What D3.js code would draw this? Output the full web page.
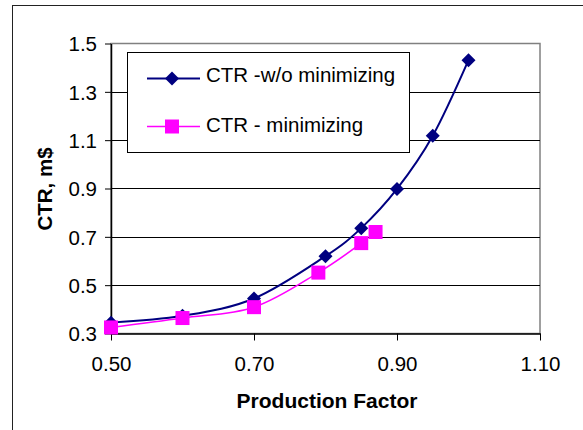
<!DOCTYPE html>
<html>
<head>
<meta charset="utf-8">
<script src="https://cdn.jsdelivr.net/npm/d3@7"></script>
<style>
  html, body { margin: 0; padding: 0; background: #fff; }
  svg { display: block; font-family: Arial, "Liberation Sans", sans-serif; }
</style>
</head>
<body>
<svg id="chart" width="583" height="430"></svg>
<script>
// ---- data ----
const xTicks = [0.50, 0.70, 0.90, 1.10];
const yTicks = [0.3, 0.5, 0.7, 0.9, 1.1, 1.3, 1.5];

const seriesNames = ["CTR -w/o minimizing", "CTR - minimizing"];

const woMinX = [0.50, 0.60, 0.70, 0.80, 0.85, 0.90, 0.95, 1.00];
const woMinY = [0.345, 0.373, 0.445, 0.620, 0.736, 0.898, 1.118, 1.431];

const minX = [0.50, 0.60, 0.70, 0.79, 0.85];
const minY = [0.325, 0.364, 0.409, 0.552, 0.674];

// unconnected extra point of the "minimizing" series
const minExtraX = [0.87];
const minExtraY = [0.720];

const xLabel = "Production Factor";
const yLabel = "CTR, m$";

// ---- layout ----
const svg = d3.select("#chart");
const plot = { left: 111, right: 540, top: 43.5, bottom: 333.5 };

const x = d3.scaleLinear().domain([0.5, 1.1]).range([plot.left, plot.right]);
const y = d3.scaleLinear().domain([0.3, 1.5]).range([plot.bottom, plot.top]);

const navy = "#000080";
const magenta = "#FF00FF";
const fs = 20.5;

// outer chart frame (extends past the window on right/bottom)
svg.append("rect")
  .attr("x", 12.5).attr("y", 5.5)
  .attr("width", 700).attr("height", 600)
  .attr("fill", "#fff").attr("stroke", "#222").attr("stroke-width", 1);

// plot area border (gray top/right)
svg.append("rect")
  .attr("x", plot.left).attr("y", plot.top)
  .attr("width", plot.right - plot.left).attr("height", plot.bottom - plot.top)
  .attr("fill", "#fff").attr("stroke", "#808080").attr("stroke-width", 1.5);

// horizontal gridlines
svg.append("g").selectAll("line")
  .data(yTicks.filter(v => v > 0.3 && v < 1.5))
  .join("line")
  .attr("x1", plot.left).attr("x2", plot.right)
  .attr("y1", d => Math.round(y(d)) + 0.5).attr("y2", d => Math.round(y(d)) + 0.5)
  .attr("stroke", "#000").attr("stroke-width", 1);

// y axis
const yAxis = d3.axisLeft(y).tickValues(yTicks).tickFormat(d3.format(".1f"))
  .tickSize(6).tickSizeOuter(0);
const gy = svg.append("g").attr("transform", `translate(${plot.left},0)`).call(yAxis);
gy.select(".domain").attr("stroke", "#000").attr("stroke-width", 1.5);
gy.selectAll(".tick line").attr("stroke", "#000");
gy.selectAll(".tick text")
  .attr("x", -14).attr("dy", "0.36em")
  .attr("font-size", fs).attr("font-family", "Arial, 'Liberation Sans', sans-serif")
  .attr("fill", "#000");

// x axis
const xAxis = d3.axisBottom(x).tickValues(xTicks).tickFormat(d3.format(".2f"))
  .tickSize(7).tickSizeOuter(0);
const gx = svg.append("g").attr("transform", `translate(0,${plot.bottom})`).call(xAxis);
gx.select(".domain").attr("stroke", "#000").attr("stroke-width", 1.5);
gx.selectAll(".tick line").attr("stroke", "#000");
gx.selectAll(".tick text")
  .attr("y", 23).attr("dy", "0.71em")
  .attr("font-size", fs).attr("font-family", "Arial, 'Liberation Sans', sans-serif")
  .attr("fill", "#000");

// axis titles
svg.append("text")
  .attr("x", 327).attr("y", 408)
  .attr("text-anchor", "middle")
  .attr("font-size", 21).attr("font-weight", "bold")
  .text(xLabel);

svg.append("text")
  .attr("transform", "translate(52,189) rotate(-90)")
  .attr("text-anchor", "middle")
  .attr("font-size", 20.5).attr("font-weight", "bold")
  .text(yLabel);

// lines
const curve = d3.curveCardinal.tension(0);
const lineGen = d3.line().x(d => x(d[0])).y(d => y(d[1])).curve(curve);

const woMinData = woMinX.map((v, i) => [v, woMinY[i]]);
const minData = minX.map((v, i) => [v, minY[i]]);
const minExtraData = minExtraX.map((v, i) => [v, minExtraY[i]]);

svg.append("path").datum(woMinData)
  .attr("d", lineGen).attr("fill", "none")
  .attr("stroke", navy).attr("stroke-width", 2);

svg.append("path").datum(minData)
  .attr("d", lineGen).attr("fill", "none")
  .attr("stroke", magenta).attr("stroke-width", 1.6);

// markers
const diamond = s => `M0,${-s}L${s},0L0,${s}L${-s},0Z`;

svg.append("g").selectAll("path")
  .data(woMinData)
  .join("path")
  .attr("transform", d => `translate(${x(d[0])},${y(d[1])})`)
  .attr("d", diamond(7))
  .attr("fill", navy);

svg.append("g").selectAll("rect")
  .data(minData.concat(minExtraData))
  .join("rect")
  .attr("x", d => x(d[0]) - 7).attr("y", d => y(d[1]) - 7)
  .attr("width", 14).attr("height", 14)
  .attr("fill", magenta);

// legend
const lg = svg.append("g");
lg.append("rect")
  .attr("x", 127.5).attr("y", 52.5)
  .attr("width", 282).attr("height", 100)
  .attr("fill", "#fff").attr("stroke", "#000").attr("stroke-width", 1);

const legendRows = [
  { name: seriesNames[0], color: navy, marker: "diamond", ly: 78.5, ty: 82, w: 2 },
  { name: seriesNames[1], color: magenta, marker: "square", ly: 126.5, ty: 131.5, w: 1.6 }
];
legendRows.forEach(r => {
  lg.append("line")
    .attr("x1", 147).attr("x2", 200)
    .attr("y1", r.ly).attr("y2", r.ly)
    .attr("stroke", r.color).attr("stroke-width", r.w);
  if (r.marker === "diamond") {
    lg.append("path")
      .attr("transform", `translate(172,${r.ly})`)
      .attr("d", diamond(7)).attr("fill", r.color);
  } else {
    lg.append("rect")
      .attr("x", 172 - 7).attr("y", r.ly - 7)
      .attr("width", 14).attr("height", 14).attr("fill", r.color);
  }
  lg.append("text")
    .attr("x", 206).attr("y", r.ty)
    .attr("font-size", fs).attr("fill", "#000")
    .text(r.name);
});
</script>
</body>
</html>
